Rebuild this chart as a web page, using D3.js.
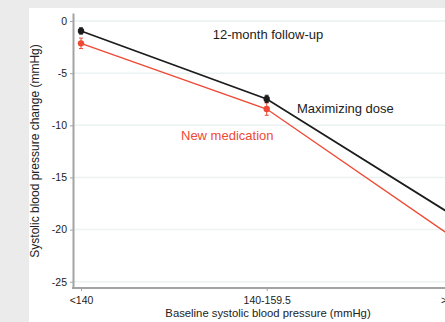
<!DOCTYPE html>
<html>
<head>
<meta charset="utf-8">
<script src="https://cdn.jsdelivr.net/npm/d3@7"></script>
<style>
  html, body { margin: 0; padding: 0; background: #ebebeb; overflow: hidden; }
  svg { display: block; font-family: "Liberation Sans", Arial, sans-serif; }
</style>
</head>
<body>
<svg id="chart" width="445" height="322"></svg>
<script>
// Baseline SBP groups and mean change in systolic BP at 12 months
const categories = ["<140", "140-159.5", ">160"];
const maxDose = [-0.95, -7.47, -18.6];
const newMed = [-2.14, -8.44, -20.7];
const maxDoseErr = [0.3, 0.35, 0.5];
const newMedErr = [0.5, 0.6, 0.7];
const yTicks = [0, -5, -10, -15, -20, -25];

const svg = d3.select("#chart");
const W = 445, H = 322;

// white plot panel
svg.append("rect").attr("x", 29).attr("y", 8)
  .attr("width", W - 29).attr("height", H - 8).attr("fill", "#ffffff");

const axisX0 = 73, axisY = 288;
const x = d3.scalePoint().domain(categories).range([81, 452.4]);
const y = d3.scaleLinear().domain([-25.6, 0.77]).range([axisY, 13]);

// horizontal grid lines
svg.append("g").selectAll("line").data(yTicks).join("line")
  .attr("x1", axisX0).attr("x2", W + 20)
  .attr("y1", d => y(d)).attr("y2", d => y(d))
  .attr("stroke", "#eaf2f2").attr("stroke-width", 1.5);

// y axis
const yAxis = svg.append("g").attr("transform", `translate(${axisX0},0)`)
  .call(d3.axisLeft(y).tickValues(yTicks).tickSize(3).tickSizeOuter(0).tickFormat(d3.format("d")).tickPadding(3));
yAxis.select(".domain").attr("stroke", "#a3a3a3").attr("stroke-width", 2);
yAxis.selectAll(".tick line").attr("stroke", "#a3a3a3").attr("stroke-width", 1);
yAxis.selectAll(".tick text").attr("font-size", 10.5).attr("fill", "#222")
  .attr("font-family", "'Liberation Sans', Arial, sans-serif")
  .text(d => d === 0 ? "0" : "-" + Math.abs(d));

// x axis
const xAxis = svg.append("g").attr("transform", `translate(0,${axisY})`)
  .call(d3.axisBottom(x).tickSize(3).tickSizeOuter(0).tickPadding(6));
xAxis.select(".domain").remove();
xAxis.selectAll(".tick line").attr("stroke", "#a3a3a3").attr("stroke-width", 1);
xAxis.selectAll(".tick text").attr("font-size", 10.5).attr("fill", "#222")
  .attr("font-family", "'Liberation Sans', Arial, sans-serif");
svg.append("line").attr("x1", axisX0 - 1).attr("x2", W + 20)
  .attr("y1", axisY).attr("y2", axisY)
  .attr("stroke", "#a3a3a3").attr("stroke-width", 2);

// axis titles
svg.append("text").attr("x", 268).attr("y", 317)
  .attr("text-anchor", "middle").attr("font-size", 11.3).attr("fill", "#222")
  .text("Baseline systolic blood pressure (mmHg)");
svg.append("text")
  .attr("transform", "translate(38.5,151) rotate(-90)")
  .attr("text-anchor", "middle").attr("font-size", 12).attr("fill", "#222")
  .text("Systolic blood pressure change (mmHg)");

// series
const series = [
  { name: "New medication", values: newMed, err: newMedErr, color: "#ee4a35", width: 1.4 },
  { name: "Maximizing dose", values: maxDose, err: maxDoseErr, color: "#1c1c1c", width: 1.7 }
];

const line = d3.line().x((d, i) => x(categories[i])).y(d => y(d));

series.forEach(s => {
  const g = svg.append("g");
  g.append("path").datum(s.values).attr("d", line)
    .attr("fill", "none").attr("stroke", s.color).attr("stroke-width", s.width);
  const pts = s.values.map((v, i) => ({ cat: categories[i], v, e: s.err[i] }));
  g.selectAll(".eb").data(pts).join("line").attr("class", "eb")
    .attr("x1", d => x(d.cat)).attr("x2", d => x(d.cat))
    .attr("y1", d => y(d.v + d.e)).attr("y2", d => y(d.v - d.e))
    .attr("stroke", s.color).attr("stroke-width", 1);
  ["+", "-"].forEach(sign => {
    g.selectAll(".cap" + (sign === "+" ? "t" : "b")).data(pts).join("line")
      .attr("x1", d => x(d.cat) - 2).attr("x2", d => x(d.cat) + 2)
      .attr("y1", d => y(sign === "+" ? d.v + d.e : d.v - d.e))
      .attr("y2", d => y(sign === "+" ? d.v + d.e : d.v - d.e))
      .attr("stroke", s.color).attr("stroke-width", 1);
  });
  g.selectAll("circle").data(pts).join("circle")
    .attr("cx", d => x(d.cat)).attr("cy", d => y(d.v))
    .attr("r", 3.2).attr("fill", s.color);
});

// annotations
svg.append("text").attr("x", 268).attr("y", 38.5)
  .attr("text-anchor", "middle").attr("font-size", 13).attr("fill", "#1c1c1c")
  .text("12-month follow-up");
svg.append("text").attr("x", 297).attr("y", 113.3)
  .attr("font-size", 13).attr("fill", "#1c1c1c")
  .text("Maximizing dose");
svg.append("text").attr("x", 181).attr("y", 140.3)
  .attr("font-size", 13).attr("fill", "#ee4a35")
  .text("New medication");
</script>
</body>
</html>
